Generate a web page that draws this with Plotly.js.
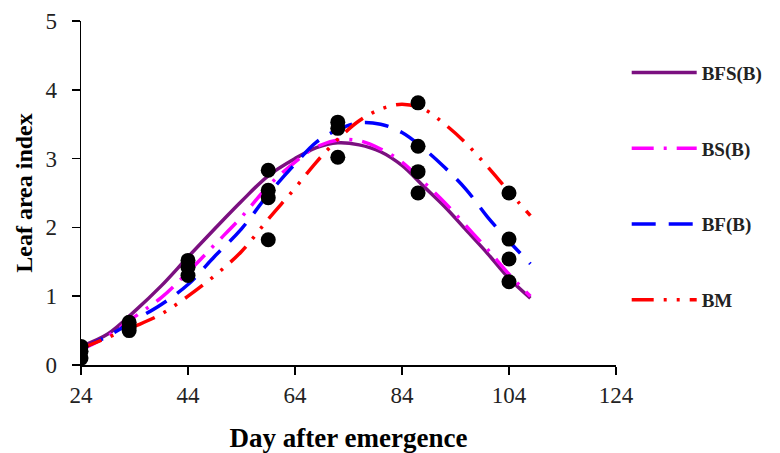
<!DOCTYPE html>
<html>
<head>
<meta charset="utf-8">
<script src="https://cdn.plot.ly/plotly-3.0.1.min.js"></script>
<style>html,body{margin:0;padding:0;background:#fff;}#chart{width:780px;height:453px;}</style>
</head>
<body>
<div id="chart"></div>
<script>
// Fitted curve sample days
const curveDays = [24, 29, 34, 39, 44, 49, 54, 59, 64, 68, 72, 76, 80, 84, 88, 92, 96, 100, 104, 108];
const bfsB = [0.27, 0.45, 0.78, 1.15, 1.57, 1.98, 2.38, 2.75, 3.0, 3.16, 3.23, 3.2, 3.1, 2.9, 2.6, 2.3, 1.96, 1.62, 1.26, 0.97];
const bsB  = [0.22, 0.42, 0.70, 0.98, 1.35, 1.75, 2.15, 2.6, 2.95, 3.17, 3.27, 3.26, 3.14, 2.95, 2.66, 2.36, 2.02, 1.68, 1.32, 1.0];
const bfB  = [0.24, 0.42, 0.65, 0.88, 1.17, 1.58, 1.98, 2.48, 2.92, 3.24, 3.42, 3.52, 3.5, 3.38, 3.15, 2.87, 2.55, 2.15, 1.8, 1.47];
const bm   = [0.24, 0.40, 0.56, 0.74, 1.0, 1.3, 1.65, 2.12, 2.57, 2.95, 3.28, 3.55, 3.72, 3.79, 3.72, 3.5, 3.22, 2.88, 2.52, 2.17];

// Observed values
const obsDays = [24, 24, 24, 33, 33, 33, 44, 44, 44, 59, 59, 59, 59, 72, 72, 72, 87, 87, 87, 87, 104, 104, 104, 104];
const obsLAI  = [0.27, 0.2, 0.1, 0.62, 0.56, 0.5, 1.52, 1.42, 1.3, 2.83, 2.54, 2.43, 1.82, 3.53, 3.44, 3.02, 3.81, 3.18, 2.81, 2.5, 2.5, 1.83, 1.54, 1.21];

const xTicks = [24, 44, 64, 84, 104, 124];
const yTicks = [0, 1, 2, 3, 4, 5];

const serif = 'Liberation Serif, Times New Roman, serif';

const traces = [
  {x: curveDays, y: bfsB, name: 'BFS(B)', legendgroup: 'a', mode: 'lines',
   line: {color: '#7b1080', width: 3.5, shape: 'spline', smoothing: 1}},
  {x: curveDays, y: bsB, name: 'BS(B)', legendgroup: 'b', mode: 'lines',
   line: {color: '#ff00ff', width: 3.5, shape: 'spline', smoothing: 1, dash: '22px,10px,3px,10px'}},
  {x: curveDays, y: bfB, name: 'BF(B)', legendgroup: 'c', mode: 'lines',
   line: {color: '#0000ff', width: 3.5, shape: 'spline', smoothing: 1, dash: '24px,13px'}},
  {x: curveDays, y: bm, name: 'BM', legendgroup: 'd', mode: 'lines',
   line: {color: '#ff0000', width: 3.5, shape: 'spline', smoothing: 1, dash: '22px,10px,3px,10px,3px,10px'}},
  {x: obsDays, y: obsLAI, name: 'Observed', mode: 'markers', showlegend: false,
   marker: {color: '#000000', size: 15, symbol: 'circle'}}
];

const layout = {
  width: 780, height: 453,
  margin: {l: 81, r: 164, t: 21, b: 88},
  paper_bgcolor: '#ffffff', plot_bgcolor: '#ffffff',
  font: {family: serif, color: '#222222'},
  showlegend: true,
  legend: {
    x: 1.02, xanchor: 'left', y: 0.905, yanchor: 'top',
    traceorder: 'grouped', tracegroupgap: 48, itemwidth: 65,
    font: {family: serif, size: 19, color: '#222222', weight: 'bold'},
    bgcolor: 'rgba(0,0,0,0)'
  },
  xaxis: {
    range: [24, 124], tickvals: xTicks, ticktext: xTicks.map(String),
    showgrid: false, zeroline: false, showline: true, linecolor: '#000', linewidth: 1.5,
    ticks: 'outside', ticklen: 8, tickcolor: '#000', tickwidth: 1.5,
    tickfont: {family: serif, size: 23, color: '#222'}, ticklabelstandoff: 1,
    title: {text: 'Day after emergence', font: {family: serif, size: 27, color: '#000', weight: 'bold'}, standoff: 22},
    automargin: false
  },
  yaxis: {
    range: [0, 5], tickvals: yTicks, ticktext: yTicks.map(String),
    showgrid: false, zeroline: false, showline: true, linecolor: '#000', linewidth: 1.5,
    ticks: 'outside', ticklen: 8, tickcolor: '#000', tickwidth: 1.5,
    tickfont: {family: serif, size: 23, color: '#222'}, ticklabelstandoff: 10,
    title: {text: 'Leaf area index', font: {family: serif, size: 24, color: '#000', weight: 'bold'}, standoff: 6},
    automargin: false
  }
};

Plotly.newPlot('chart', traces, layout, {displayModeBar: false, staticPlot: true});
</script>
</body>
</html>
